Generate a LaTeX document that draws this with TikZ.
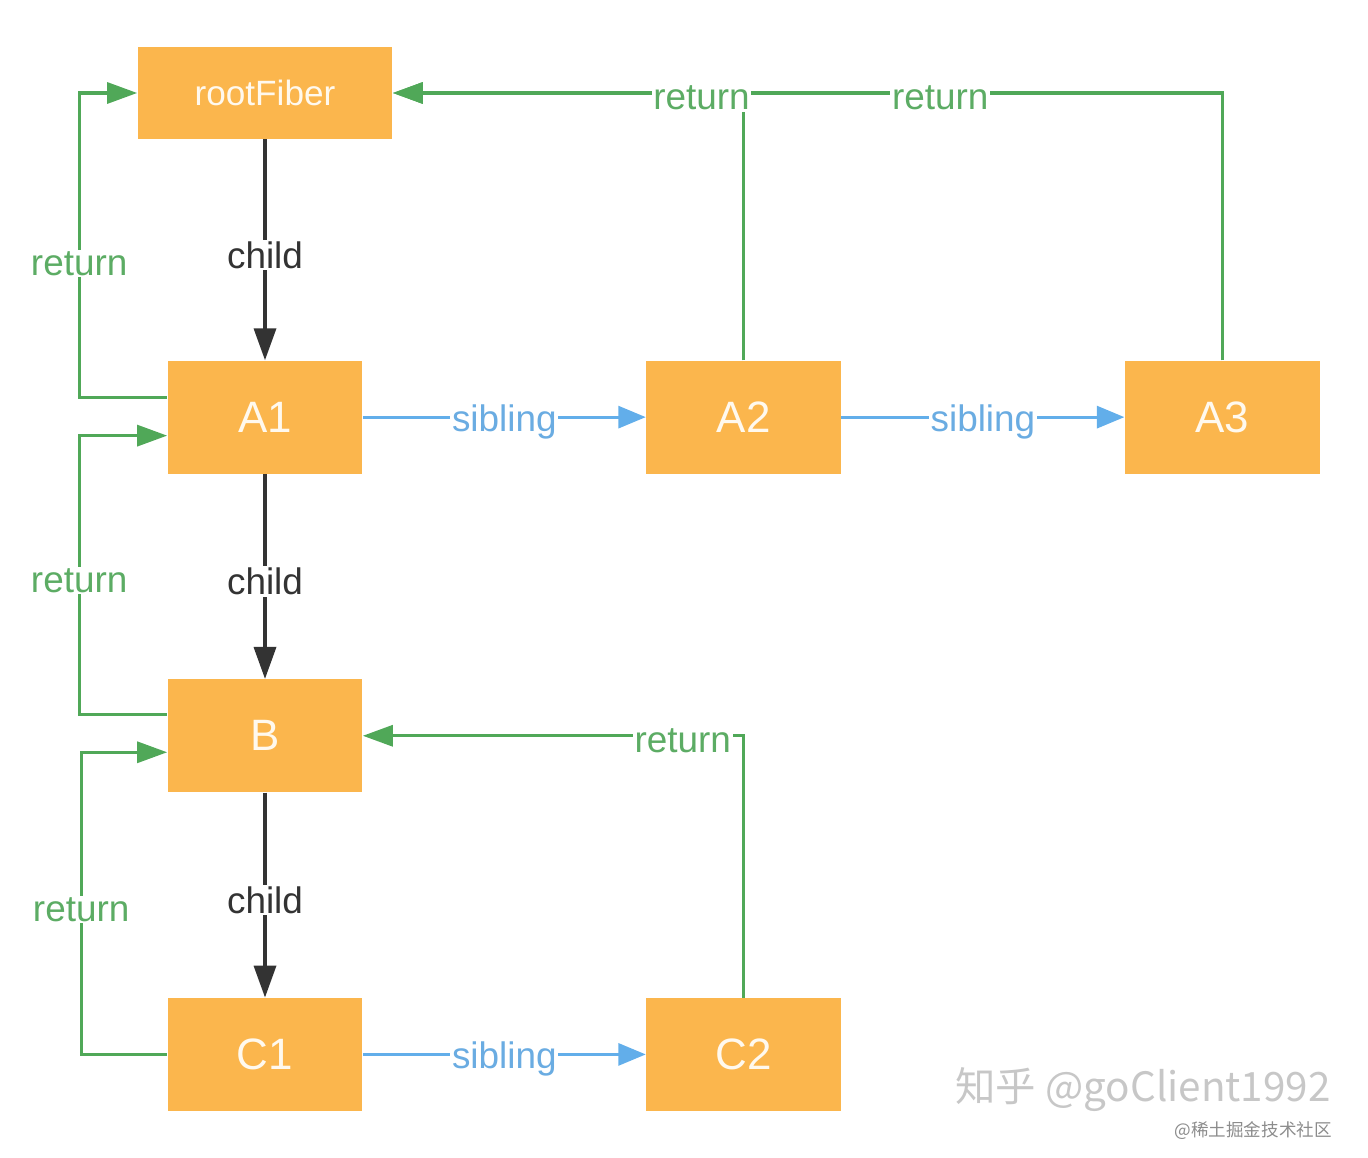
\documentclass[tikz,border=0pt]{standalone}
\usepackage{fontspec}
\setmainfont{Liberation Sans}
\newfontfamily\cjkfont{Noto Sans CJK SC}
\usetikzlibrary{arrows.meta, positioning}
\usepackage{xcolor}

\definecolor{fiberorange}{RGB}{251,182,77}
\definecolor{fibertext}{RGB}{255,249,238}
\definecolor{childblack}{RGB}{51,51,51}
\definecolor{returngreen}{RGB}{80,168,88}
\definecolor{returntext}{RGB}{92,172,100}
\definecolor{siblingblue}{RGB}{98,174,234}
\definecolor{siblingtext}{RGB}{106,172,226}

\begin{document}
\begin{tikzpicture}[
  x=0.02cm, y=-0.02cm,
  fiber/.style={rectangle, fill=fiberorange, minimum width=3.9cm,
    minimum height=2.26cm, text=fibertext, font=\fontsize{25}{30}\selectfont},
  rootbox/.style={fiber, minimum width=5.1cm, minimum height=1.84cm,
    font=\fontsize{20}{24}\selectfont},
  lbl/.style={fill=white, inner sep=1pt, font=\fontsize{21}{25}\selectfont},
  childarrow/.style={draw=childblack, line width=2pt,
    -{Triangle[length=0.64cm, width=0.44cm]}},
  returnarrow/.style={draw=returngreen, line width=1.8pt,
    -{Triangle[length=0.6cm, width=0.42cm]}},
  siblingarrow/.style={draw=siblingblue, line width=1.8pt,
    -{Triangle[length=0.55cm, width=0.44cm]}}
]
\useasboundingbox (0,0) rectangle (1368,1158);

\node[rootbox] (root) at (265,93) {rootFiber};
\node[fiber] (A1) [below=4.42cm of root] {A1};
\node[fiber] (A2) [right=5.66cm of A1] {A2};
\node[fiber] (A3) [right=5.66cm of A2] {A3};
\node[fiber] (B) [below=4.1cm of A1] {B};
\node[fiber] (C1) [below=4.1cm of B] {C1};
\node[fiber] (C2) [right=5.66cm of C1] {C2};

% child
\draw[childarrow] (root) -- (A1) node[lbl, midway, yshift=-0.1cm, text=childblack] {child};
\draw[childarrow] (A1) -- (B) node[lbl, midway, yshift=-0.1cm, text=childblack] {child};
\draw[childarrow] (B) -- (C1) node[lbl, midway, yshift=-0.1cm, text=childblack] {child};

% sibling
\draw[siblingarrow] (A1) -- (A2) node[lbl, midway, yshift=-0.1cm, text=siblingtext] {sibling};
\draw[siblingarrow] (A2) -- (A3) node[lbl, midway, yshift=-0.1cm, text=siblingtext] {sibling};
\draw[siblingarrow] (C1) -- (C2) node[lbl, midway, yshift=-0.1cm, text=siblingtext] {sibling};

% return
\draw[returnarrow] ([yshift=0.39cm]A1.west) -- ++(-88,0) |- (root.west)
  node[lbl, pos=0.22, text=returntext] {return};
\draw[returnarrow] ([yshift=0.43cm]B.west) -- ++(-88,0) |- ([yshift=-0.37cm]A1.west)
  node[lbl, pos=0.24, text=returntext] {return};
\draw[returnarrow] (C1.west) -- ++(-86,0) |- ([yshift=-0.33cm]B.west)
  node[lbl, pos=0.24, text=returntext] {return};
\draw[returnarrow] (A3.north) |- (root.east)
  node[lbl, pos=0.67, yshift=-0.1cm, text=returntext] {return};
\draw[returnarrow] (A2.north) |- (root.east)
  node[lbl, pos=0.56, yshift=-0.1cm, text=returntext] {return};
\draw[returnarrow] (C2.north) |- (B.east)
  node[lbl, pos=0.58, yshift=-0.1cm, text=returntext] {return};

% watermark
\node[text=black!22, font=\cjkfont\fontsize{23}{26}\selectfont] (mark) at (1143,1090) {知乎 @goClient1992};
\node[text=black!45, font=\cjkfont\fontsize{10}{12}\selectfont, anchor=east] (site) at (1338,1131) {@稀土掘金技术社区};
\end{tikzpicture}
\end{document}
